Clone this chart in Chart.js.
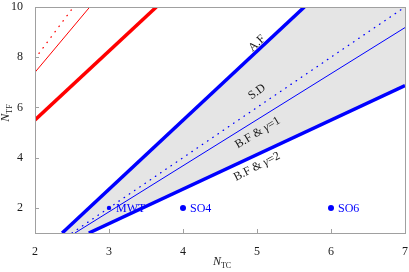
<!DOCTYPE html>
<html>
<head>
<meta charset="utf-8">
<script src="https://cdn.jsdelivr.net/npm/chart.js@4.4.0/dist/chart.umd.min.js"></script>
<style>
html,body{margin:0;padding:0;background:#fff;}
#wrap{width:409px;height:272px;}
</style>
</head>
<body>
<div id="wrap"><canvas id="c" width="409" height="272"></canvas></div>
<script>
// ---- data ----
const xTicks = [2, 3, 4, 5, 6, 7];
const yTicks = [2, 4, 6, 8, 10];

const redThickX = [2, 3.64];   const redThickY = [5.5, 10];
const redThinX  = [2, 2.74];   const redThinY  = [7.4, 10];
const redDotX   = [2, 2.52];   const redDotY   = [7.94, 10];

const afX  = [2.367, 5.64];    const afY  = [1, 10];     // A.F
const sdX  = [2.5, 7];         const sdY  = [1, 10];     // S.D
const bf1X = [2.54, 7];        const bf1Y = [1, 9.18];   // B.F & γ=1
const bf2X = [2.727, 7];       const bf2Y = [1, 6.87];   // B.F & γ=2

const modelNames = ['MWT', 'SO4', 'SO6'];
const modelX = [3, 4, 6];
const modelY = [2, 2, 2];

const lineLabels = ['A.F', 'S.D', 'B.F & γ=1', 'B.F & γ=2'];
const lineLabelX = [5.0, 5.0, 5.01, 5.0];
const lineLabelY = [8.55, 6.62, 4.99, 3.64];

// ---- helpers ----
const pts = (xs, ys) => xs.map((x, i) => ({x: x, y: ys[i]}));
const X_MIN = 2, X_MAX = 7, Y_MIN = 1, Y_MAX = 10;

// shaded region between A.F and B.F & γ=2
const upperFill = pts(afX, afY).concat([{x: X_MAX, y: Y_MAX}]);
const lowerFill = [{x: afX[0], y: Y_MIN}].concat(pts(bf2X, bf2Y));

const SERIF = '"Liberation Serif", "DejaVu Serif", serif';
const BLUE = '#0000ff', RED = '#ff0000', FRAME = '#a0a0a0';
const FS = 12;

const decor = {
  id: 'decor',
  afterDatasetsDraw(chart) {
    const ctx = chart.ctx, a = chart.chartArea;
    const xs = chart.scales.x, ys = chart.scales.y;
    ctx.save();
    // frame
    ctx.strokeStyle = FRAME; ctx.lineWidth = 1;
    ctx.strokeRect(Math.round(a.left) + 0.5, Math.round(a.top) + 0.5,
                   Math.round(a.right - a.left), Math.round(a.bottom - a.top));
    // inward ticks
    ctx.beginPath();
    xTicks.forEach(v => {
      if (v === X_MIN || v === X_MAX) return;
      const px = Math.round(xs.getPixelForValue(v)) + 0.5;
      ctx.moveTo(px, a.bottom); ctx.lineTo(px, a.bottom - 4);
    });
    yTicks.forEach(v => {
      if (v === Y_MAX) return;
      const py = Math.round(ys.getPixelForValue(v)) + 0.5;
      ctx.moveTo(a.left, py); ctx.lineTo(a.left + 4, py);
    });
    ctx.stroke();

    // point labels
    ctx.fillStyle = BLUE;
    ctx.font = FS + 'px ' + SERIF;
    ctx.textBaseline = 'middle';
    ctx.textAlign = 'left';
    modelNames.forEach((n, i) => {
      const px = xs.getPixelForValue(modelX[i]);
      const py = ys.getPixelForValue(modelY[i]);
      ctx.fillText(n, px + 7, py + 0.5);
    });

    // rotated line labels
    const angles = [-43, -36, -31, -27];
    ctx.fillStyle = '#1a1a1a';
    lineLabels.forEach((t, i) => {
      const px = xs.getPixelForValue(lineLabelX[i]);
      const py = ys.getPixelForValue(lineLabelY[i]);
      ctx.save();
      ctx.translate(px, py);
      ctx.rotate(angles[i] * Math.PI / 180);
      ctx.textBaseline = 'middle';
      const parts = t.split('γ');
      let total = 0;
      const widths = [];
      parts.forEach((p, k) => {
        ctx.font = FS + 'px ' + SERIF;
        const w = ctx.measureText(p).width; widths.push(w); total += w;
        if (k < parts.length - 1) {
          ctx.font = 'italic ' + FS + 'px ' + SERIF;
          total += ctx.measureText('γ').width;
        }
      });
      let cx = -total / 2;
      ctx.textAlign = 'left';
      parts.forEach((p, k) => {
        ctx.font = FS + 'px ' + SERIF;
        ctx.fillText(p, cx, 0); cx += widths[k];
        if (k < parts.length - 1) {
          ctx.font = 'italic ' + FS + 'px ' + SERIF;
          ctx.fillText('γ', cx, 0); cx += ctx.measureText('γ').width;
        }
      });
      ctx.restore();
    });

    // axis titles
    ctx.fillStyle = '#1a1a1a';
    ctx.textBaseline = 'alphabetic';
    ctx.textAlign = 'left';
    ctx.font = 'italic 12px ' + SERIF;
    const nW = ctx.measureText('N').width;
    ctx.font = '8px ' + SERIF;
    const tcW = ctx.measureText('TC').width;
    let sx = (a.left + a.right) / 2 - (nW + tcW) / 2 + 2;
    ctx.font = 'italic 12px ' + SERIF;
    ctx.fillText('N', sx, 265);
    ctx.font = '8px ' + SERIF;
    ctx.fillText('TC', sx + nW, 268);
    ctx.save();
    ctx.translate(9, 113);
    ctx.rotate(-Math.PI / 2);
    ctx.font = 'italic 12px ' + SERIF;
    const nW2 = ctx.measureText('N').width;
    ctx.font = '8px ' + SERIF;
    const tfW = ctx.measureText('TF').width;
    const s2 = -(nW2 + tfW) / 2;
    ctx.font = 'italic 12px ' + SERIF;
    ctx.fillText('N', s2, 0);
    ctx.font = '8px ' + SERIF;
    ctx.fillText('TF', s2 + nW2, 3);
    ctx.restore();

    ctx.restore();
  }
};

const lineDs = (xs, ys, color, width, dash) => ({
  data: pts(xs, ys), showLine: true, borderColor: color, borderWidth: width,
  borderDash: dash || [], pointRadius: 0, fill: false, tension: 0,
  borderCapStyle: dash ? 'round' : 'butt'
});

new Chart(document.getElementById('c'), {
  type: 'scatter',
  data: {
    datasets: [
      {data: modelX.map((x, i) => ({x: x, y: modelY[i]})), showLine: false,
       pointRadius: [2.2, 3, 3], pointBackgroundColor: BLUE, pointBorderWidth: 0,
       borderColor: BLUE},
      lineDs(afX, afY, BLUE, 3.5),
      lineDs(bf2X, bf2Y, BLUE, 3.5),
      lineDs(bf1X, bf1Y, BLUE, 1),
      lineDs(sdX, sdY, BLUE, 1.3, [0.5, 5.8]),
      lineDs(redThickX, redThickY, RED, 3.5),
      lineDs(redThinX, redThinY, RED, 1),
      lineDs(redDotX, redDotY, RED, 1.3, [0.5, 6.2]),
      {data: upperFill, showLine: true, borderWidth: 0, pointRadius: 0,
       fill: '+1', backgroundColor: '#e5e5e5', borderColor: 'rgba(0,0,0,0)'},
      {data: lowerFill, showLine: true, borderWidth: 0, pointRadius: 0,
       fill: false, borderColor: 'rgba(0,0,0,0)'}
    ]
  },
  options: {
    responsive: false, animation: false, devicePixelRatio: 1,
    layout: {padding: {top: 7, right: 3, left: 0, bottom: 0}},
    plugins: {legend: {display: false}, tooltip: {enabled: false},
              filler: {drawTime: 'beforeDatasetsDraw'}},
    scales: {
      x: {
        type: 'linear', min: X_MIN, max: X_MAX,
        grid: {display: false}, border: {display: false},
        afterBuildTicks: s => { s.ticks = xTicks.map(v => ({value: v})); },
        afterFit: s => { s.height = 39; s.paddingLeft = 0; s.paddingRight = 0; },
        ticks: {padding: 4, color: '#1a1a1a', font: {family: SERIF, size: FS},
                maxRotation: 0, autoSkip: false}
      },
      y: {
        type: 'linear', min: Y_MIN, max: Y_MAX,
        grid: {display: false}, border: {display: false},
        afterBuildTicks: s => { s.ticks = yTicks.map(v => ({value: v})); },
        afterFit: s => { s.width = 35; s.paddingTop = 0; s.paddingBottom = 0; },
        ticks: {padding: 4, color: '#1a1a1a', font: {family: SERIF, size: FS},
                autoSkip: false}
      }
    }
  },
  plugins: [decor]
});
</script>
</body>
</html>
